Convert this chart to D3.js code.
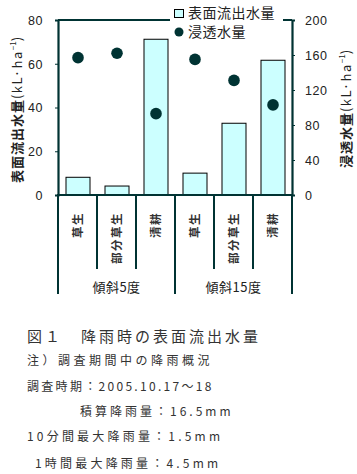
<!DOCTYPE html>
<html><head><meta charset="utf-8">
<script src="https://cdn.jsdelivr.net/npm/d3@7/dist/d3.min.js"></script>
<style>body{margin:0;background:#fff}svg{display:block}</style>
</head><body>
<svg id="c" width="357" height="474"></svg>
<script>
const categories = ["草生","部分草生","清耕","草生","部分草生","清耕"];
const groups = ["傾斜5度","傾斜15度"];
const runoff = [8.1, 4.1, 71.2, 10.0, 32.8, 61.6];
const infiltration = [157, 162, 93, 155, 131, 103];
const leftTicks = [0,20,40,60,80];
const rightTicks = [0,40,80,120,160,200];
const notes = ["注）調査期間中の降雨概況","調査時期：2005.10.17～18","積算降雨量：16.5mm","10分間最大降雨量：1.5mm","1時間最大降雨量：4.5mm"];

const svg = d3.select("#c");
const L = 58, R = 292, T = 20, B = 195;
const dark = "#003333";
const font = "'Noto Sans CJK JP', 'Liberation Sans', sans-serif";
const x = d3.scaleBand().domain(d3.range(categories.length)).range([L, R]).paddingInner(0).paddingOuter(0);
const yL = d3.scaleLinear().domain([0,80]).range([B, T]);
const yR = d3.scaleLinear().domain([0,200]).range([B, T]);
const bw = 24;

// bars
svg.selectAll("rect.bar").data(runoff).join("rect")
  .attr("x",(d,i)=>x(i)+x.bandwidth()/2-bw/2+0.5).attr("y",d=>yL(d))
  .attr("width",bw).attr("height",d=>B-yL(d))
  .attr("fill","#ccffff").attr("stroke","#000").attr("stroke-width",1);

// dots
svg.selectAll("circle.dot").data(infiltration).join("circle")
  .attr("cx",(d,i)=>x(i)+x.bandwidth()/2+0.5).attr("cy",d=>yR(d)).attr("r",5.8).attr("fill",dark);

// top frame
svg.append("line").attr("x1",L).attr("x2",R).attr("y1",T).attr("y2",T).attr("stroke",dark).attr("stroke-width",2);

// axes
const gl = svg.append("g").attr("transform",`translate(${L},0)`)
  .call(d3.axisLeft(yL).tickValues(leftTicks).tickSize(3).tickPadding(12));
const gr = svg.append("g").attr("transform",`translate(${R},0)`)
  .call(d3.axisRight(yR).tickValues(rightTicks).tickSize(3).tickPadding(10));
[gl,gr].forEach(g=>{
  g.select(".domain").attr("stroke",dark).attr("stroke-width",2.2);
  g.selectAll(".tick line").attr("stroke",dark);
  g.selectAll(".tick text").attr("font-family","'Liberation Sans', Arial, sans-serif").attr("font-size",12.5).attr("letter-spacing",0.5).attr("fill","#222").attr("dy","0.35em");
});
svg.append("line").attr("x1",L-1).attr("x2",R+1).attr("y1",B).attr("y2",B).attr("stroke",dark).attr("stroke-width",2.2);

// separators below axis
const seps = d3.range(categories.length+1);
svg.selectAll("line.sep").data(seps).join("line")
  .attr("x1",i=> i===categories.length? R : x(i)).attr("x2",i=> i===categories.length? R : x(i))
  .attr("y1",B).attr("y2",i=> (i%3===0)? 294 : 269)
  .attr("stroke",dark).attr("stroke-width",2);

// category labels (rotated, reading bottom to top, end at top)
svg.selectAll("text.cat").data(categories).join("text").attr("class","cat")
  .attr("transform",(d,i)=>`translate(${x(i)+x.bandwidth()/2+0.5},${212}) rotate(-90)`)
  .attr("text-anchor","end").attr("dy","0.36em")
  .attr("font-family",font).attr("font-size",11.5).attr("font-weight","bold").attr("letter-spacing",1.5).attr("fill","#333").text(d=>d);
groups.forEach((g,k)=>{
  svg.append("text").attr("x",(x(k*3)+x(k*3+2)+x.bandwidth())/2).attr("y",292).attr("text-anchor","middle")
    .attr("font-family",font).attr("font-size",13).attr("letter-spacing",0.5).attr("fill","#222").text(g);
});

// axis titles
function title(tx, ty, main){
  const t = svg.append("text").attr("transform",`translate(${tx},${ty}) rotate(-90)`).attr("text-anchor","middle")
    .attr("font-family",font).attr("font-size",13).attr("fill","#222");
  t.append("tspan").attr("font-weight","bold").attr("letter-spacing",1).text(main);
  t.append("tspan").attr("letter-spacing",1.5).text("(kL·ha");
  t.append("tspan").attr("font-size",8).attr("dy",-6).text("−1");
  t.append("tspan").attr("dy",6).text(")");
}
title(22, 110, "表面流出水量");
title(351, 109, "浸透水量");

// legend
const lg = svg.append("g");
lg.append("rect").attr("x",170).attr("y",3).attr("width",113).attr("height",36).attr("fill","#fff");
lg.append("rect").attr("x",174.5).attr("y",9.5).attr("width",9).attr("height",8).attr("fill","#ccffff").attr("stroke","#000");
lg.append("text").attr("x",188).attr("y",18).attr("font-family",font).attr("font-size",14).attr("letter-spacing",0.5).attr("fill","#222").text("表面流出水量");
lg.append("circle").attr("cx",179).attr("cy",32).attr("r",4.5).attr("fill",dark);
lg.append("text").attr("x",188).attr("y",37).attr("font-family",font).attr("font-size",14).attr("letter-spacing",0.5).attr("fill","#222").text("浸透水量");

// caption and notes
svg.append("text").attr("x",27).attr("y",342).attr("font-family",font).attr("font-size",15).attr("letter-spacing",3).attr("fill","#333")
  .text("図１　降雨時の表面流出水量");
const nx = [27,27,80,27,35], ny = [365,391,416,441,468];
const ls = [3.5,2.3,3,3.2,3.2];
notes.forEach((n,i)=>{
  svg.append("text").attr("x",nx[i]).attr("y",ny[i]).attr("font-family",font).attr("font-size",12).attr("letter-spacing",ls[i]).attr("fill","#333").text(n);
});
</script>
</body></html>
